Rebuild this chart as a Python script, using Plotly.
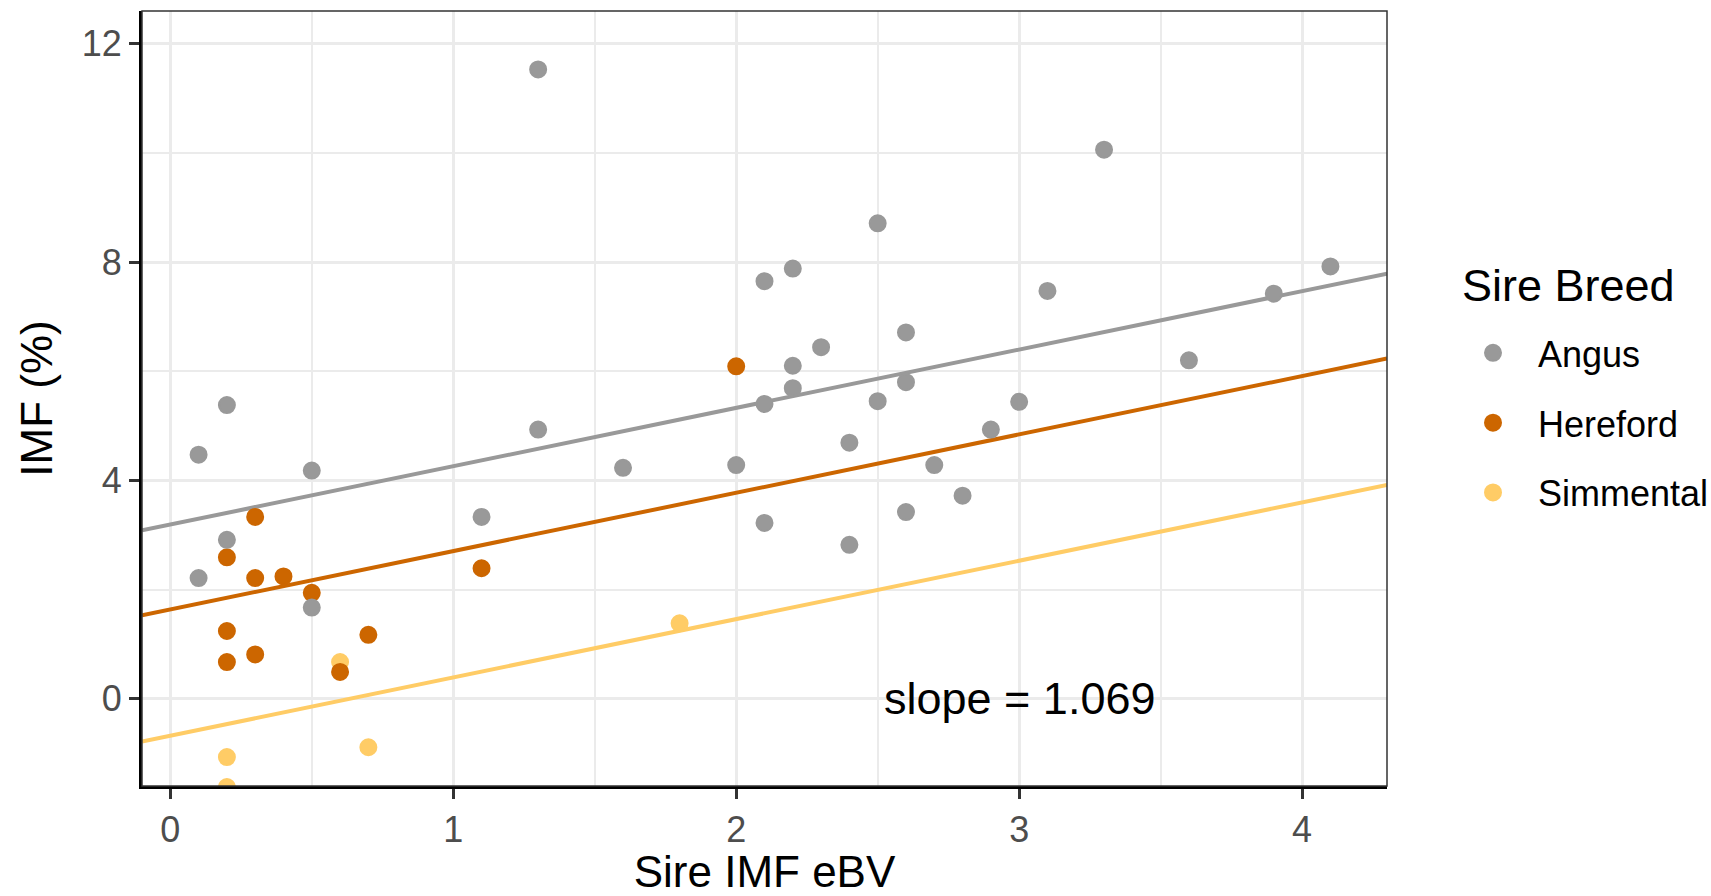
import plotly.graph_objects as go

# ---------------- data ----------------
breeds = ["Angus", "Hereford", "Simmental"]
colors = {"Angus": "#999999", "Hereford": "#CC6600", "Simmental": "#FFCC66"}

angus_x = [0.1, 0.1, 0.2, 0.2, 0.5, 0.5, 1.1, 1.3, 1.3, 1.6, 2.0, 2.1, 2.1, 2.1,
           2.2, 2.2, 2.2, 2.3, 2.4, 2.4, 2.5, 2.5, 2.6, 2.6, 2.6, 2.7, 2.8, 2.9,
           3.0, 3.1, 3.3, 3.6, 3.9, 4.1]
angus_y = [4.47, 2.21, 5.38, 2.91, 4.18, 1.67, 3.33, 11.53, 4.93, 4.23, 4.28, 7.65, 5.40, 3.22,
           7.88, 6.10, 5.69, 6.44, 4.69, 2.82, 8.71, 5.45, 6.71, 5.80, 3.42, 4.28, 3.72, 4.93,
           5.44, 7.47, 10.06, 6.20, 7.42, 7.92]

hereford_x = [0.2, 0.2, 0.2, 0.3, 0.3, 0.3, 0.4, 0.5, 0.6, 0.7, 1.1, 2.0]
hereford_y = [2.59, 1.24, 0.67, 3.33, 2.21, 0.81, 2.24, 1.94, 0.49, 1.17, 2.39, 6.09]

simmental_x = [0.2, 0.2, 0.6, 0.7, 1.8]
simmental_y = [-1.07, -1.62, 0.67, -0.89, 1.38]

# common-slope model (parallel lines)
slope = 1.069
intercepts = {"Angus": 3.19, "Hereford": 1.635, "Simmental": -0.68}
slope_label = "slope = 1.069"
legend_title = "Sire Breed"

x_range = [-0.1, 4.3]
y_range = [-1.6, 12.6]
x_ticks = [0, 1, 2, 3, 4]
y_ticks = [0, 4, 8, 12]

points = {
    "Angus": (angus_x, angus_y),
    "Hereford": (hereford_x, hereford_y),
    "Simmental": (simmental_x, simmental_y),
}

FONT = "Liberation Sans, Arial, Helvetica, sans-serif"

fig = go.Figure()

# regression lines (under the points)
for b in ["Simmental", "Hereford", "Angus"]:
    xs = x_range
    ys = [intercepts[b] + slope * v for v in xs]
    fig.add_trace(go.Scatter(
        x=xs, y=ys, mode="lines",
        line=dict(color=colors[b], width=4),
        showlegend=False, hoverinfo="skip",
    ))

# points: drawn Simmental, Hereford, Angus (Angus on top); legend ordered Angus first
ranks = {"Angus": 1, "Hereford": 2, "Simmental": 3}
for b in ["Simmental", "Hereford", "Angus"]:
    xs, ys = points[b]
    fig.add_trace(go.Scatter(
        x=xs, y=ys, mode="markers", name=b,
        marker=dict(color=colors[b], size=16, line=dict(width=2, color=colors[b])),
        legendgroup=b, legendrank=ranks[b],
    ))

fig.add_annotation(
    x=3, y=0, text=slope_label, showarrow=False,
    font=dict(family=FONT, size=45, color="black"),
    xanchor="center", yanchor="middle",
)

# legend title as free text
fig.add_annotation(
    xref="paper", yref="paper", x=1.0586, y=0.6452,
    text=legend_title, showarrow=False,
    font=dict(family=FONT, size=45, color="black"),
    xanchor="left", yanchor="middle",
)

# panel border (thin) on top
fig.add_shape(type="rect", xref="paper", yref="paper", x0=0, y0=0, x1=1, y1=1,
              line=dict(color="#333333", width=1.5), layer="above")

axis_common = dict(
    showgrid=True, gridcolor="#EBEBEB", gridwidth=3,
    minor=dict(showgrid=True, gridcolor="#EBEBEB", gridwidth=1.5),
    zeroline=False,
    showline=True, linecolor="black", linewidth=3,
    ticks="outside", ticklen=10, tickwidth=3, tickcolor="#333333",
    tickfont=dict(family=FONT, size=36, color="#4D4D4D"),
)

fig.update_xaxes(
    range=x_range, tickvals=x_ticks, ticktext=[str(t) for t in x_ticks],
    minor_tickvals=[0.5, 1.5, 2.5, 3.5],
    title=dict(text="Sire IMF eBV", font=dict(family=FONT, size=44, color="black"), standoff=16),
    **axis_common,
)
fig.update_yaxes(
    range=y_range, tickvals=y_ticks, ticktext=[str(t) for t in y_ticks],
    minor_tickvals=[2, 6, 10],
    title=dict(text="IMF (%)", font=dict(family=FONT, size=44, color="black"), standoff=16),
    **axis_common,
)

fig.update_layout(
    width=1711, height=896,
    margin=dict(l=142, r=324, t=11, b=110, autoexpand=False),
    paper_bgcolor="white", plot_bgcolor="white",
    font=dict(family=FONT),
    legend=dict(
        font=dict(family=FONT, size=36, color="black"),
        x=1.049, xanchor="left", xref="paper", y=0.5975, yanchor="top",
        tracegroupgap=20, itemwidth=80,
        bgcolor="rgba(0,0,0,0)",
    ),
)

fig.write_html("out.html")
